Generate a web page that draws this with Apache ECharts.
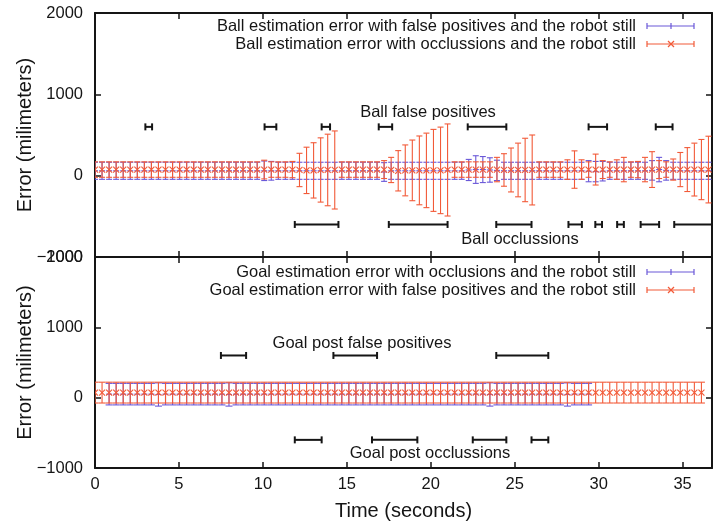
<!DOCTYPE html>
<html>
<head>
<meta charset="utf-8">
<script src="https://cdn.jsdelivr.net/npm/echarts@6/dist/echarts.min.js"></script>
<style>
  html, body { margin: 0; padding: 0; background: #fff; }
  #chart { width: 713px; height: 524px; }
</style>
</head>
<body>
<div id="chart"></div>
<script>
// sample times (seconds)
const times = [
  0.00, 0.42, 0.84, 1.26, 1.68, 2.10, 2.52, 2.94, 3.36, 3.78,
  4.20, 4.62, 5.04, 5.46, 5.88, 6.30, 6.72, 7.14, 7.56, 7.98,
  8.40, 8.82, 9.24, 9.66, 10.08, 10.50, 10.92, 11.34, 11.76, 12.18,
  12.60, 13.02, 13.44, 13.86, 14.28, 14.70, 15.12, 15.54, 15.96, 16.38,
  16.80, 17.22, 17.64, 18.06, 18.48, 18.90, 19.32, 19.74, 20.16, 20.58,
  21.00, 21.42, 21.84, 22.26, 22.68, 23.10, 23.52, 23.94, 24.36, 24.78,
  25.20, 25.62, 26.04, 26.46, 26.88, 27.30, 27.72, 28.14, 28.56, 28.98,
  29.40, 29.82, 30.24, 30.66, 31.08, 31.50, 31.92, 32.34, 32.76, 33.18,
  33.60, 34.02, 34.44, 34.86, 35.28, 35.70, 36.12, 36.54
];

// ball, false positives (blue)
const ballFpMean = [
  60, 60, 60, 60, 60, 60, 60, 60, 60, 60,
  60, 60, 60, 60, 60, 60, 60, 60, 60, 60,
  60, 60, 60, 60, 60, 60, 60, 60, 60, 60,
  60, 60, 60, 60, 60, 60, 60, 60, 60, 60,
  60, 45, 60, 60, 60, 60, 60, 60, 60, 60,
  60, 60, 60, 70, 75, 75, 70, 65, 60, 60,
  60, 60, 60, 60, 60, 60, 60, 60, 60, 60,
  55, 50, 55, 60, 60, 60, 60, 60, 60, 65,
  75, 65, 60, 60, 60, 60, 60, 60
];
const ballFpErr = [
  105, 105, 105, 105, 105, 105, 105, 105, 105, 105,
  105, 105, 105, 105, 105, 105, 105, 105, 105, 105,
  105, 105, 105, 105, 120, 115, 105, 105, 105, 105,
  105, 105, 105, 105, 105, 105, 105, 105, 105, 105,
  105, 115, 105, 105, 105, 105, 105, 105, 105, 105,
  105, 105, 105, 130, 170, 160, 150, 125, 105, 105,
  105, 105, 105, 105, 105, 105, 105, 105, 105, 105,
  130, 125, 120, 105, 105, 105, 105, 105, 105, 120,
  150, 120, 105, 105, 105, 105, 105, 105
];

// ball, occlusions (red)
const ballOcMean = [
  75, 75, 75, 75, 75, 75, 75, 75, 75, 75,
  75, 75, 75, 75, 75, 75, 75, 75, 75, 75,
  75, 75, 75, 75, 75, 75, 75, 75, 75, 70,
  65, 65, 70, 70, 70, 75, 75, 75, 75, 75,
  75, 75, 70, 60, 65, 65, 65, 65, 65, 65,
  70, 75, 75, 75, 75, 75, 75, 75, 70, 70,
  70, 70, 70, 75, 75, 75, 75, 75, 75, 75,
  75, 75, 75, 75, 75, 75, 75, 75, 75, 75,
  75, 75, 75, 75, 75, 75, 75, 75
];
const ballOcErr = [
  95, 95, 95, 95, 95, 95, 95, 95, 95, 95,
  95, 95, 95, 95, 95, 95, 95, 95, 95, 95,
  95, 95, 95, 95, 115, 95, 95, 95, 100, 205,
  285, 340, 395, 440, 480, 95, 95, 95, 95, 95,
  95, 110, 155, 248, 313, 373, 423, 458, 504, 532,
  566, 95, 95, 95, 95, 95, 95, 150, 200, 270,
  330, 390, 430, 95, 95, 95, 95, 120, 230, 120,
  95, 190, 110, 95, 120, 150, 95, 100, 150, 220,
  110, 95, 130, 210, 270, 325, 370, 410
];

// goal, occlusions (blue) uses times[2..70]
const goalOcMean = [
  50, 50, 50, 50, 50, 50, 50, 45, 50, 50,
  50, 50, 50, 50, 50, 50, 50, 45, 50, 50,
  50, 50, 50, 50, 50, 50, 50, 50, 50, 50,
  50, 50, 50, 50, 50, 50, 50, 50, 50, 50,
  50, 50, 50, 50, 50, 50, 50, 50, 50, 50,
  50, 50, 50, 50, 45, 50, 50, 50, 50, 50,
  50, 50, 50, 50, 50, 45, 50, 50, 50
];
const goalOcErr = [
  153, 153, 153, 153, 153, 153, 153, 165, 153, 153,
  153, 153, 153, 153, 153, 153, 153, 165, 153, 153,
  153, 153, 153, 153, 153, 153, 153, 153, 153, 153,
  153, 153, 153, 153, 153, 153, 153, 153, 153, 153,
  153, 153, 153, 153, 153, 153, 153, 153, 153, 153,
  153, 153, 153, 153, 165, 153, 153, 153, 153, 153,
  153, 153, 153, 153, 153, 165, 153, 153, 153
];

// goal, false positives (red) uses times[0..86]
const goalFpMean = [
  72, 72, 72, 72, 72, 72, 72, 72, 72, 72,
  72, 72, 72, 72, 72, 72, 72, 72, 72, 72,
  72, 72, 72, 72, 72, 72, 72, 72, 72, 72,
  72, 72, 72, 72, 72, 72, 72, 72, 72, 72,
  72, 72, 72, 72, 72, 72, 72, 72, 72, 72,
  72, 72, 72, 72, 72, 72, 72, 72, 72, 72,
  72, 72, 72, 72, 72, 72, 72, 72, 72, 72,
  72, 72, 72, 72, 72, 72, 72, 72, 72, 72,
  72, 72, 72, 72, 72, 72, 72
];
const goalFpErr = [
  148, 148, 148, 148, 148, 148, 148, 148, 148, 148,
  148, 148, 148, 148, 148, 148, 148, 148, 148, 148,
  148, 148, 148, 148, 148, 148, 148, 148, 148, 148,
  148, 148, 148, 148, 148, 148, 148, 148, 148, 148,
  148, 148, 148, 148, 148, 148, 148, 148, 148, 148,
  148, 148, 148, 148, 148, 148, 148, 148, 148, 148,
  148, 148, 148, 148, 148, 148, 148, 148, 148, 148,
  148, 148, 148, 148, 148, 148, 148, 148, 148, 148,
  148, 148, 148, 148, 148, 148, 148
];

// event intervals [start, end] in seconds
const ballFalsePos = [[3.0, 3.4], [10.1, 10.8], [13.5, 14.0], [16.9, 17.7], [22.2, 24.5], [29.4, 30.5], [33.4, 34.4]];
const ballOcclusions = [[11.9, 14.5], [17.5, 21.0], [23.9, 26.0], [28.2, 29.0], [29.8, 30.2], [31.1, 31.5], [32.5, 33.6], [34.5, 37.5]];
const goalFalsePos = [[7.5, 9.0], [14.2, 16.8], [23.9, 27.0]];
const goalOcclusions = [[11.9, 13.5], [16.5, 19.2], [22.5, 24.5], [26.0, 27.0]];
const falsePosLevel = 600;
const occlusionLevel = -600;

const yTicks = [-1000, 0, 1000, 2000];
const xMax = 36.75;

const BLUE = '#6a58d8';
const RED = '#f25a38';
const INK = '#151515';
const FONT = 'Liberation Sans, Arial, sans-serif';

const chart = echarts.init(document.getElementById('chart'), null, { renderer: 'canvas' });

function errorBars(name, xi, yi, ts, means, errs, color, cap, mark) {
  return {
    name: name,
    type: 'custom',
    xAxisIndex: xi,
    yAxisIndex: yi,
    clip: true,
    data: ts.map((t, i) => [t, means[i], errs[i]]),
    renderItem: function (params, api) {
      const t = api.value(0), m = api.value(1), e = api.value(2);
      const hi = api.coord([t, m + e]);
      const lo = api.coord([t, m - e]);
      const mid = api.coord([t, m]);
      const st = { stroke: color, lineWidth: 1.1 };
      const kids = [
        { type: 'line', shape: { x1: hi[0], y1: hi[1], x2: lo[0], y2: lo[1] }, style: st },
        { type: 'line', shape: { x1: hi[0] - cap, y1: hi[1], x2: hi[0] + cap, y2: hi[1] }, style: st },
        { type: 'line', shape: { x1: lo[0] - cap, y1: lo[1], x2: lo[0] + cap, y2: lo[1] }, style: st }
      ];
      if (mark === 'x') {
        kids.push({ type: 'line', shape: { x1: mid[0] - 3, y1: mid[1] - 3, x2: mid[0] + 3, y2: mid[1] + 3 }, style: st });
        kids.push({ type: 'line', shape: { x1: mid[0] - 3, y1: mid[1] + 3, x2: mid[0] + 3, y2: mid[1] - 3 }, style: st });
      } else {
        kids.push({ type: 'line', shape: { x1: mid[0] - 3, y1: mid[1], x2: mid[0] + 3, y2: mid[1] }, style: st });
      }
      return { type: 'group', children: kids };
    }
  };
}

function spans(xi, yi, list, level) {
  return {
    type: 'custom',
    xAxisIndex: xi,
    yAxisIndex: yi,
    clip: true,
    z: 5,
    data: list.map(s => [s[0], s[1], level]),
    renderItem: function (params, api) {
      const a = api.coord([api.value(0), api.value(2)]);
      const b = api.coord([api.value(1), api.value(2)]);
      const st = { stroke: INK, lineWidth: 2 };
      return {
        type: 'group',
        children: [
          { type: 'line', shape: { x1: a[0], y1: a[1], x2: b[0], y2: b[1] }, style: st },
          { type: 'line', shape: { x1: a[0], y1: a[1] - 3.5, x2: a[0], y2: a[1] + 3.5 }, style: st },
          { type: 'line', shape: { x1: b[0], y1: b[1] - 3.5, x2: b[0], y2: b[1] + 3.5 }, style: st }
        ]
      };
    }
  };
}

const lineStyle = { color: INK, width: 2 };
const tick = { inside: true, length: 6, lineStyle: { color: INK, width: 1.5 } };
const plain = v => String(v).replace('-', '\u2212');

function xAx(grid, pos, labels, name) {
  return {
    gridIndex: grid, type: 'value', position: pos, min: 0, max: xMax, interval: 5,
    axisLine: { onZero: false, lineStyle: lineStyle },
    axisTick: tick,
    splitLine: { show: false },
    axisLabel: { show: labels, showMaxLabel: false, formatter: plain, color: INK, fontSize: 16.5, fontFamily: FONT, margin: 8 },
    name: name || '', nameLocation: 'middle', nameGap: 33, nameMoveOverlap: false,
    nameTextStyle: { color: INK, fontSize: 20, fontFamily: FONT }
  };
}

function yAx(grid, pos, labels, name) {
  return {
    gridIndex: grid, type: 'value', position: pos, min: yTicks[0], max: yTicks[yTicks.length - 1], interval: 1000,
    axisLine: { onZero: false, lineStyle: lineStyle },
    axisTick: tick,
    splitLine: { show: false },
    axisLabel: { show: labels, formatter: plain, color: INK, fontSize: 16.5, fontFamily: FONT, margin: 12 },
    name: name || '', nameLocation: 'middle', nameGap: 60, nameMoveOverlap: false,
    nameTextStyle: { color: INK, fontSize: 20, fontFamily: FONT }
  };
}

function legendItem(y, label, color, mark) {
  const st = { stroke: color, lineWidth: 1.2 };
  const items = [
    { type: 'text', x: 636, y: y, style: { text: label, textAlign: 'right', textVerticalAlign: 'middle', fill: INK, fontSize: 16.5, fontFamily: FONT } },
    { type: 'line', shape: { x1: 647, y1: y, x2: 694, y2: y }, style: st },
    { type: 'line', shape: { x1: 647, y1: y - 3, x2: 647, y2: y + 3 }, style: st },
    { type: 'line', shape: { x1: 694, y1: y - 3, x2: 694, y2: y + 3 }, style: st }
  ];
  if (mark === 'x') {
    items.push({ type: 'line', shape: { x1: 668, y1: y - 3, x2: 674, y2: y + 3 }, style: st });
    items.push({ type: 'line', shape: { x1: 668, y1: y + 3, x2: 674, y2: y - 3 }, style: st });
  } else {
    items.push({ type: 'line', shape: { x1: 671, y1: y - 3, x2: 671, y2: y + 3 }, style: st });
  }
  return items;
}

function note(x, y, text) {
  return { type: 'text', x: x, y: y, z: 10, style: { text: text, textAlign: 'center', textVerticalAlign: 'middle', fill: INK, fontSize: 16.5, fontFamily: FONT } };
}

const option = {
  animation: false,
  backgroundColor: '#fff',
  grid: [
    { left: 95, top: 13, width: 617, height: 244 },
    { left: 95, top: 257, width: 617, height: 211 }
  ],
  xAxis: [
    xAx(0, 'bottom', false),
    xAx(0, 'top', false),
    xAx(1, 'bottom', true, 'Time (seconds)'),
    xAx(1, 'top', false)
  ],
  yAxis: [
    yAx(0, 'left', true, 'Error (milimeters)'),
    yAx(0, 'right', false),
    yAx(1, 'left', true, 'Error (milimeters)'),
    yAx(1, 'right', false)
  ],
  series: [
    errorBars('Ball estimation error with false positives and the robot still', 0, 0, times, ballFpMean, ballFpErr, BLUE, 3, '+'),
    errorBars('Ball estimation error with occlussions and the robot still', 0, 0, times, ballOcMean, ballOcErr, RED, 3, 'x'),
    errorBars('Goal estimation error with occlusions and the robot still', 2, 2, times.slice(2, 71), goalOcMean, goalOcErr, BLUE, 3.5, '+'),
    errorBars('Goal estimation error with false positives and the robot still', 2, 2, times.slice(0, 87), goalFpMean, goalFpErr, RED, 3.5, 'x'),
    spans(0, 0, ballFalsePos, falsePosLevel),
    spans(0, 0, ballOcclusions, occlusionLevel),
    spans(2, 2, goalFalsePos, falsePosLevel),
    spans(2, 2, goalOcclusions, occlusionLevel)
  ],
  graphic: [
    ...legendItem(26, 'Ball estimation error with false positives and the robot still', BLUE, '+'),
    ...legendItem(44, 'Ball estimation error with occlussions and the robot still', RED, 'x'),
    ...legendItem(272, 'Goal estimation error with occlusions and the robot still', BLUE, '+'),
    ...legendItem(290, 'Goal estimation error with false positives and the robot still', RED, 'x'),
    note(428, 112, 'Ball false positives'),
    note(520, 239, 'Ball occlussions'),
    note(362, 343, 'Goal post false positives'),
    note(430, 453, 'Goal post occlussions')
  ]
};

chart.setOption(option);
window.addEventListener('resize', () => chart.resize());
</script>
</body>
</html>
